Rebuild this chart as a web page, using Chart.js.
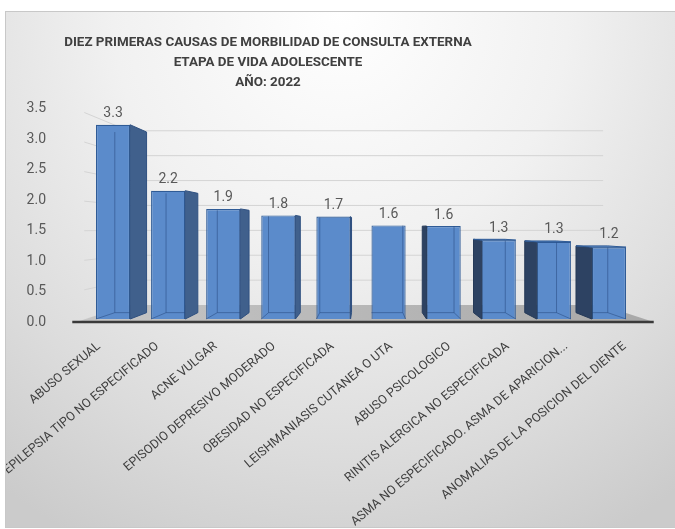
<!DOCTYPE html>
<html><head><meta charset="utf-8">
<script src="https://cdn.jsdelivr.net/npm/chart.js@4.4.1/dist/chart.umd.min.js"></script>
<style>
html,body{margin:0;padding:0;background:#fff;}
#frame{position:absolute;left:5px;top:11px;width:671px;height:517px;box-sizing:border-box;border:1px solid #c8c8c8;
background:radial-gradient(ellipse 85% 115% at 50% 0%, #ffffff 0%, #f1f1f1 40%, #dcdcdc 75%, #cbcbcb 100%);}
canvas{display:block}
</style></head><body>
<div id="frame"><canvas id="c" width="669" height="515"></canvas></div>
<script>
const titleLines = ["DIEZ PRIMERAS CAUSAS DE MORBILIDAD DE CONSULTA EXTERNA","ETAPA DE VIDA ADOLESCENTE","AÑO: 2022"];
const categories = ["ABUSO SEXUAL","EPILEPSIA TIPO NO ESPECIFICADO","ACNE VULGAR","EPISODIO DEPRESIVO MODERADO","OBESIDAD NO ESPECIFICADA","LEISHMANIASIS CUTANEA O UTA","ABUSO PSICOLOGICO","RINITIS ALERGICA NO ESPECIFICADA","ASMA NO ESPECIFICADO. ASMA DE APARICION...","ANOMALIAS DE LA POSICION DEL DIENTE"];
const values = [3.30, 2.18, 1.87, 1.76, 1.74, 1.59, 1.58, 1.34, 1.31, 1.22];
const yTickLabels = ["0.0","0.5","1.0","1.5","2.0","2.5","3.0","3.5"];

function vp(chart){
  const a = chart.chartArea;
  return {x:(a.left+a.right)/2 + 4, y:a.top + 0.56*(a.bottom-a.top)};
}
function poly(ctx, pts, fill, stroke, lw){
  ctx.beginPath();
  pts.forEach((p,i)=> i?ctx.lineTo(p[0],p[1]):ctx.moveTo(p[0],p[1]));
  ctx.closePath();
  if(fill){ctx.fillStyle=fill;ctx.fill();}
  if(stroke){ctx.strokeStyle=stroke;ctx.lineWidth=lw||1;ctx.stroke();}
}
// front-plane label axes: stretched around the vanishing point like the 3D front wall
const frontPlane = {
  id:'frontPlane',
  afterLayout(chart){
    const t = chart.titleBlock;
    if (t) { t.left = 0; t.right = 524; }
    const V = vp(chart);
    const x = chart.scales.x, x2 = chart.scales.x2, y = chart.scales.y, y2 = chart.scales.y2;
    const sx = 1.06, sy = 1.035;
    x2.left = V.x + sx*(x.left - V.x); x2.right = V.x + sx*(x.right - V.x); x2.width = x2.right - x2.left;
    x2.configure();
    y2.top = V.y + sy*(y.top - V.y); y2.bottom = V.y + sy*(y.bottom - V.y); y2.height = y2.bottom - y2.top;
    y2.configure();
  }
};
const persp = {
  id:'persp',
  beforeDatasetsDraw(chart){
    const {ctx, chartArea:a} = chart; const y = chart.scales.y;
    const V = vp(chart);
    const P = (x,yy,s)=>[V.x + s*(x-V.x), V.y + s*(yy-V.y)];
    const sF = 1.033, sB = 0.846;
    const y0 = y.getPixelForValue(0);
    ctx.save();
    ctx.strokeStyle = '#d4d4d4'; ctx.lineWidth = 1;
    y.ticks.forEach(t=>{
      if(t.value===0) return;
      const yy = y.getPixelForValue(t.value);
      const f = P(a.left,yy,sF), b = P(a.left,yy,sB), b2 = P(a.right+10,yy,sB);
      ctx.beginPath(); ctx.moveTo(f[0]+8,f[1]+ (b[1]-f[1])*8/(b[0]-f[0])); ctx.lineTo(b[0],b[1]); ctx.lineTo(b2[0],b2[1]); ctx.stroke();
    });
    const fl = P(a.left,y0,sF), fr = P(a.right+8,y0,sF), bl = P(a.left,y0,sB), br = P(a.right+8,y0,sB);
    const g = ctx.createLinearGradient(fl[0],0,fr[0],0);
    g.addColorStop(0,'#c6c6c6'); g.addColorStop(1,'#a8a8a8');
    poly(ctx,[fl,bl,br,fr],g);
    ctx.beginPath(); ctx.moveTo(fl[0]-4,fl[1]); ctx.lineTo(fr[0],fr[1]);
    ctx.strokeStyle='#3a3a3a'; ctx.lineWidth=2.5; ctx.stroke();
    ctx.restore();
  },
  afterDatasetsDraw(chart){
    const {ctx} = chart;
    const V = vp(chart);
    const P = (x,yy,s)=>[V.x + s*(x-V.x), V.y + s*(yy-V.y)];
    const s = 0.93;
    const meta = chart.getDatasetMeta(0);
    ctx.save();
    meta.data.forEach((bar,i)=>{
      const p = bar.getProps(['x','y','base','width'], true);
      const L = p.x - p.width/2, R = p.x + p.width/2, T = p.y, B = p.base;
      const [Lb,Tb] = P(L,T,s), [Rb,Bb] = P(R,B,s);
      ctx.strokeStyle = 'rgba(40,75,130,0.55)'; ctx.lineWidth = 1;
      ctx.beginPath();
      if (Rb > R) { ctx.moveTo(Lb,Tb); ctx.lineTo(Lb,Bb); ctx.lineTo(Math.min(Rb,R),Bb); ctx.moveTo(L,B); ctx.lineTo(Lb,Bb); }
      else { ctx.moveTo(Rb,Tb); ctx.lineTo(Rb,Bb); ctx.lineTo(Math.max(Lb,L),Bb); ctx.moveTo(R,B); ctx.lineTo(Rb,Bb); }
      ctx.stroke();
      if (Rb > R + 0.8) {
        poly(ctx,[[R,T],[Rb,Tb],[Rb,Bb],[R,B]],'#40608c','#2f5080',1);
      } else if (Lb < L - 0.8) {
        poly(ctx,[[L,T],[Lb,Tb],[Lb,Bb],[L,B]],'#2d4262','#263a58',1);
      }
      if (Tb < T - 0.3) {
        poly(ctx,[[L,T],[R,T],[Rb,Tb],[Lb,Tb]],'#6f9ad4','#2f5b96',1);
      }
      ctx.fillStyle = '#595959';
      ctx.font = '14px Roboto';
      ctx.textAlign = 'center'; ctx.textBaseline = 'middle';
      ctx.fillText(values[i].toFixed(1), p.x, Math.min(T,Tb) - 11);
    });
    ctx.restore();
  }
};

new Chart(document.getElementById('c'), {
  type:'bar',
  data:{ labels:categories, datasets:[{ data:values, backgroundColor:'#5b8bcb', borderColor:'#2f5b96', borderWidth:1.2, barPercentage:0.62, categoryPercentage:1 }]},
  options:{
    responsive:false, animation:false,
    layout:{padding:{left:0,right:38.5,top:0,bottom:0}},
    plugins:{
      legend:{display:false}, tooltip:{enabled:false},
      title:{display:true, text:titleLines, color:'#404040', padding:{top:21,bottom:20},
        font:{family:'Roboto', size:13.4, weight:'bold', lineHeight:20/13.4}}
    },
    scales:{
      x:{ display:false },
      x2:{ type:'category', labels:categories, position:'bottom', offset:true,
          grid:{display:false, drawTicks:false}, border:{display:false},
          ticks:{autoSkip:false, maxRotation:40, minRotation:40, padding:20, labelOffset:1, color:'#404040', font:{family:'Roboto', size:12.5}},
          afterFit(s){ s.height = 208; } },
      y:{ display:false, min:0, max:3.5, ticks:{stepSize:0.5} },
      y2:{ type:'linear', position:'left', min:0, max:3.5, grid:{display:false, drawTicks:false}, border:{display:false},
          ticks:{stepSize:0.5, padding:39.5, color:'#595959', font:{family:'Roboto', size:14},
                 callback:(v,i)=>yTickLabels[i]},
          afterFit(s){ s.width = 79.5; } }
    }
  },
  plugins:[frontPlane, persp]
});
</script>
</body></html>
